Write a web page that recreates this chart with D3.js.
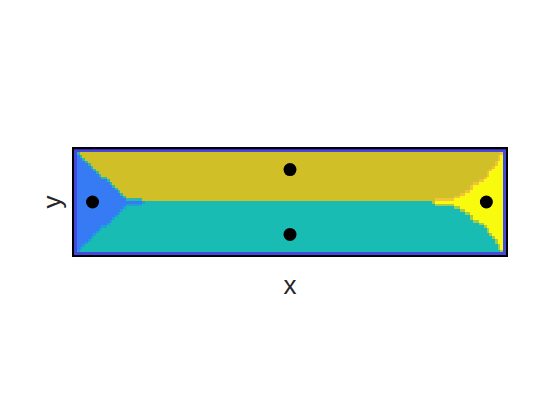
<!DOCTYPE html>
<html><head><meta charset="utf-8">
<script src="https://d3js.org/d3.v7.min.js"></script>
<style>body{margin:0;background:#fff}</style></head>
<body>
<script>
// seed points (data coords, x in [0,4], y in [0,1])
const seedX = [0.18, 2.0, 2.0, 3.81];
const seedY = [0.5, 0.8, 0.2, 0.5];
// region classes and colors
const regionNames = ["edge", "rim", "left", "bottom", "top", "right",
                     "left|top", "left|bottom", "right|top", "right|bottom"];
const regionColors = ["#3e26a8", "#4549dc", "#367af4", "#19bcb3", "#d1bf27", "#f9fb0e",
                      "#2bb8a4", "#1c9fda", "#f2c33a", "#a6cb45"];
// boundary reach of side regions vs distance from mid line
const bandDist   = [0, 0.025, 0.1, 0.15, 0.2, 0.25, 0.3, 0.35, 0.4, 0.45, 0.5];
const leftReach  = [0.645, 0.49, 0.41, 0.355, 0.30, 0.245, 0.187, 0.14, 0.09, 0.04, 0.0];
const rightReach = [0.664, 0.48, 0.335, 0.30, 0.215, 0.17, 0.14, 0.09, 0.06, 0.04, 0.0];
const xDomain = [0, 4], yDomain = [0, 1];
const gridNx = 161, gridNy = 41;
const xLabel = "x", yLabel = "y";

const W = 560, H = 420;
const svg = d3.select("body").append("svg").attr("width", W).attr("height", H);
const x = d3.scaleLinear().domain(xDomain).range([73, 507]);
const y = d3.scaleLinear().domain(yDomain).range([256, 148]);
const lReach = d3.scaleLinear().domain(bandDist).range(leftReach).clamp(true);
const rReach = d3.scaleLinear().domain(bandDist).range(rightReach).clamp(true);
const color = d3.scaleOrdinal().domain(regionNames).range(regionColors);

const hx = (xDomain[1] - xDomain[0]) / (gridNx - 1);
const hy = (yDomain[1] - yDomain[0]) / (gridNy - 1);
const grid = [];
for (let j = 0; j < gridNy; j++) {
  grid.push([]);
  for (let i = 0; i < gridNx; i++) {
    const cx = xDomain[0] + i * hx, cy = yDomain[0] + j * hy;
    let r;
    if (i === 0 || j === 0 || i === gridNx - 1 || j === gridNy - 1) r = "edge";
    else if (i === 1 || j === 1 || i === gridNx - 2 || j === gridNy - 2) r = "rim";
    else {
      const d = Math.abs(cy - 0.5);
      if (cx - xDomain[0] <= lReach(d) + 1e-9) r = "left";
      else if (xDomain[1] - cx <= rReach(d) + 1e-9) r = "right";
      else if (cy > 0.5 + 1e-9) r = "top";
      else r = "bottom";
    }
    grid[j].push({cx, cy, r});
  }
}
// boundary cells of the middle regions next to a side region take a blended class
const cells = [];
for (let j = 0; j < gridNy; j++) {
  for (let i = 0; i < gridNx; i++) {
    const c = grid[j][i];
    let r = c.r;
    if (r === "top" || r === "bottom") {
      for (const [di, dj] of [[1,0],[-1,0],[0,1],[0,-1]]) {
        const n = grid[j + dj] && grid[j + dj][i + di];
        if (n && (n.r === "left" || n.r === "right")) { r = n.r + "|" + c.r; break; }
      }
    }
    cells.push({cx: c.cx, cy: c.cy, r});
  }
}

svg.append("clipPath").attr("id", "plotclip").append("rect")
  .attr("x", x(xDomain[0])).attr("y", y(yDomain[1]))
  .attr("width", x(xDomain[1]) - x(xDomain[0])).attr("height", y(yDomain[0]) - y(yDomain[1]));

const g = svg.append("g").attr("clip-path", "url(#plotclip)");
g.selectAll("rect.cell").data(cells).join("rect").attr("class", "cell")
  .attr("x", d => x(d.cx - hx / 2))
  .attr("y", d => y(d.cy + hy / 2))
  .attr("width", x(hx) - x(0) + 0.4)
  .attr("height", y(0) - y(hy) + 0.4)
  .attr("fill", d => color(d.r))
  .attr("shape-rendering", "crispEdges");

svg.selectAll("circle.seed").data(seedX.map((v, k) => ({x: v, y: seedY[k]})))
  .join("circle").attr("class", "seed")
  .attr("cx", d => x(d.x)).attr("cy", d => y(d.y)).attr("r", 6.5).attr("fill", "#000");

svg.append("rect")
  .attr("x", x(xDomain[0])).attr("y", y(yDomain[1]))
  .attr("width", x(xDomain[1]) - x(xDomain[0])).attr("height", y(yDomain[0]) - y(yDomain[1]))
  .attr("fill", "none").attr("stroke", "#000").attr("stroke-width", 2);

svg.append("text").attr("x", (x(xDomain[0]) + x(xDomain[1])) / 2).attr("y", 294)
  .attr("text-anchor", "middle").attr("font-family", "Liberation Sans, Arial, sans-serif")
  .attr("font-size", 26).attr("fill", "#262626").text(xLabel);
svg.append("text").attr("transform", `translate(61,${(y(0) + y(1)) / 2}) rotate(-90)`)
  .attr("text-anchor", "middle").attr("font-family", "Liberation Sans, Arial, sans-serif")
  .attr("font-size", 26).attr("fill", "#262626").text(yLabel);
</script>
</body></html>
